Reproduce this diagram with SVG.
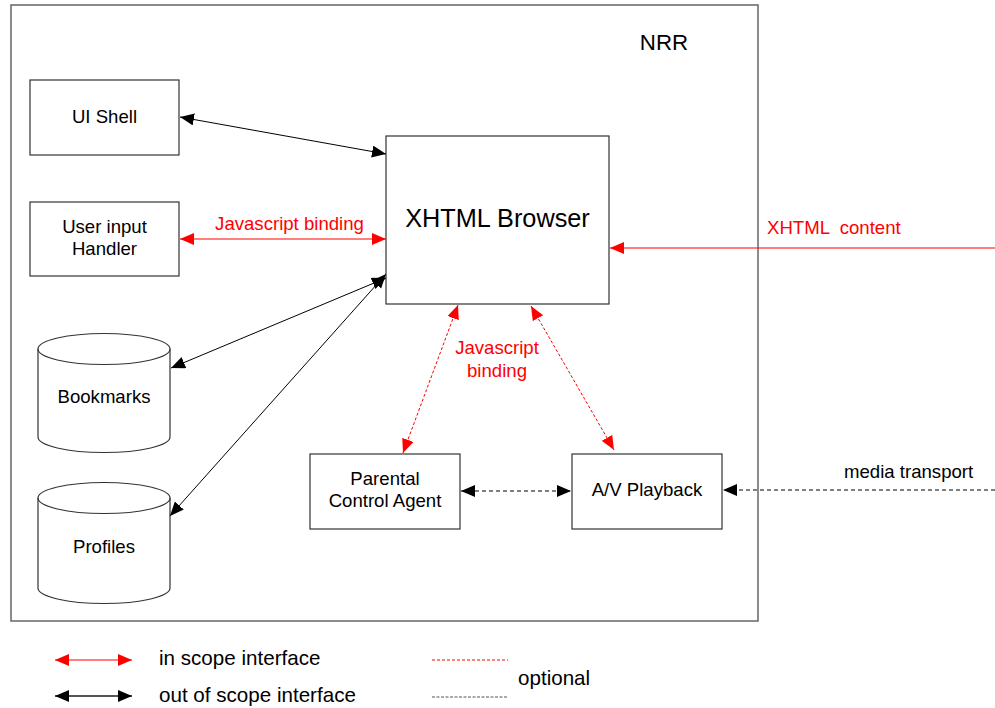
<svg xmlns="http://www.w3.org/2000/svg" width="995" height="708" viewBox="0 0 995 708">
<style>
text{font-family:"Liberation Sans",Arial,sans-serif;font-size:18.6px;fill:#000}
.box{fill:#fff;stroke:#333;stroke-width:1.2}
.red{fill:#ff0000}
.c{text-anchor:middle}
.lg{font-size:20.6px}
.lk{stroke:#000;stroke-width:1;fill:none}
.lr{stroke:#ff0000;stroke-width:1.2;fill:none}
.dr{stroke:#ff0000;stroke-width:1;stroke-dasharray:3 2;fill:none}
.dk{stroke:#000;stroke-width:1;stroke-dasharray:4 3;fill:none}
</style>
<defs>
<marker id="ak" markerUnits="userSpaceOnUse" markerWidth="15" markerHeight="13" refX="14" refY="6" orient="auto-start-reverse" viewBox="0 0 15 13"><path d="M0,0 L14,6 L0,12 z" fill="#000"/></marker>
<marker id="ar" markerUnits="userSpaceOnUse" markerWidth="15" markerHeight="13" refX="14" refY="6" orient="auto-start-reverse" viewBox="0 0 15 13"><path d="M0,0 L14,6 L0,12 z" fill="#ff0000"/></marker>
</defs>
<g id="nrr">
<rect x="11" y="5" width="747" height="616" fill="none" stroke="#666" stroke-width="1.5"/>
<text x="664" y="50" class="c" style="font-size:22.3px">NRR</text>
</g>
<g id="ui-shell">
<rect class="box" x="30" y="80" width="149" height="75"/>
<text x="104.5" y="123" class="c">UI Shell</text>
</g>
<g id="user-input-handler">
<rect class="box" x="30" y="202" width="149" height="74"/>
<text x="104.5" y="233" class="c">User input</text>
<text x="104.5" y="255" class="c">Handler</text>
</g>
<g id="xhtml-browser">
<rect class="box" x="386" y="136" width="223" height="168"/>
<text x="497.5" y="227" class="c" style="font-size:25.3px">XHTML Browser</text>
</g>
<g id="bookmarks">
<path class="box" d="M38,349 A66,15.5 0 0 1 170,349 L170,437 A66,15.5 0 0 1 38,437 Z"/>
<path d="M38,349 A66,15.5 0 0 0 170,349" fill="none" stroke="#333" stroke-width="1.2"/>
<text x="104" y="403" class="c">Bookmarks</text>
</g>
<g id="profiles">
<path class="box" d="M38,498 A66,15.5 0 0 1 170,498 L170,588 A66,15.5 0 0 1 38,588 Z"/>
<path d="M38,498 A66,15.5 0 0 0 170,498" fill="none" stroke="#333" stroke-width="1.2"/>
<text x="104" y="553" class="c">Profiles</text>
</g>
<g id="parental-control-agent">
<rect class="box" x="310" y="454" width="150" height="75"/>
<text x="385" y="485" class="c">Parental</text>
<text x="385" y="507" class="c">Control Agent</text>
</g>
<g id="av-playback">
<rect class="box" x="572" y="454" width="150" height="75"/>
<text x="647" y="496" class="c">A/V Playback</text>
</g>
<g id="connectors">
<line class="lk" x1="180" y1="117" x2="386" y2="154" marker-start="url(#ak)" marker-end="url(#ak)"/>
<line class="lr" x1="180" y1="239" x2="386" y2="239" marker-start="url(#ar)" marker-end="url(#ar)"/>
<text x="289.5" y="230" class="c red">Javascript binding</text>
<line class="lk" x1="171" y1="368" x2="386" y2="278" marker-start="url(#ak)" marker-end="url(#ak)"/>
<line class="lk" x1="170" y1="516" x2="386" y2="274" marker-start="url(#ak)" marker-end="url(#ak)"/>
<line class="dr" x1="458" y1="305" x2="403" y2="453" marker-start="url(#ar)" marker-end="url(#ar)"/>
<line class="dr" x1="531" y1="306" x2="614" y2="450" marker-start="url(#ar)" marker-end="url(#ar)"/>
<text x="497" y="354" class="c red">Javascript</text>
<text x="497" y="377" class="c red">binding</text>
<line class="dk" x1="461" y1="491" x2="571" y2="491" marker-start="url(#ak)" marker-end="url(#ak)"/>
<line class="lr" x1="995" y1="248" x2="610" y2="248" marker-end="url(#ar)"/>
<text x="767" y="234" class="red" xml:space="preserve" style="white-space:pre">XHTML  content</text>
<line class="dk" x1="995" y1="490" x2="723" y2="490" marker-end="url(#ak)"/>
<text x="844" y="478">media transport</text>
</g>
<g id="legend">
<line class="lr" x1="55" y1="660" x2="132" y2="660" marker-start="url(#ar)" marker-end="url(#ar)"/>
<line x1="55" y1="696" x2="132" y2="696" stroke="#555" stroke-width="2" marker-start="url(#ak)" marker-end="url(#ak)"/>
<text x="159" y="665" class="lg">in scope interface</text>
<text x="159" y="702" class="lg">out of scope interface</text>
<line class="dr" x1="432" y1="660" x2="508" y2="660" stroke-dasharray="3 1.5"/>
<line x1="432" y1="697" x2="508" y2="697" stroke="#555" stroke-dasharray="3 1.5"/>
<text x="518" y="685" class="lg">optional</text>
</g>
</svg>
